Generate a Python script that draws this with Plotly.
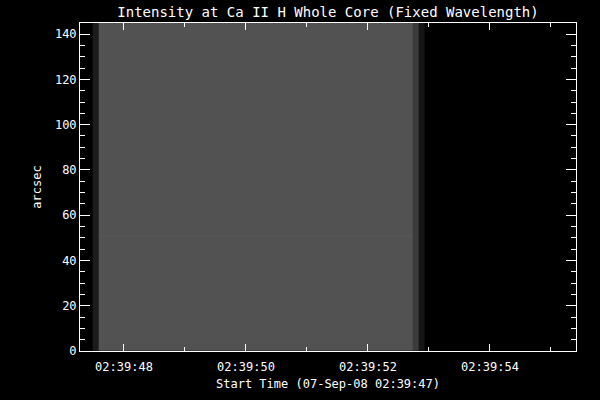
import plotly.graph_objects as go

# Column intensity levels (display grey level 0-255), one per exposure
column_levels = [28,
                 82, 82, 82, 82, 82, 82, 82, 82, 82, 82,
                 82, 82, 82, 82, 82, 82, 82, 82, 82, 82,
                 82, 82, 82, 82, 82, 82, 82, 82, 82, 82,
                 82, 82, 82, 82, 82, 82, 82, 82, 82, 82,
                 82, 82, 82, 82, 82, 82, 82, 82, 82, 82,
                 59, 21]
first_column_time = 0.538   # seconds after 02:39:47 (center of first column)
column_cadence = 0.1028     # seconds

# Slit rows (arcsec edges) and small brightness offsets
row_edges = [0, 50.4, 51.1, 145]
row_offsets = [0, 6, 0]

x_tick_vals = [1, 3, 5, 7]
x_tick_text = ["02:39:48", "02:39:50", "02:39:52", "02:39:54"]
y_tick_vals = [0, 20, 40, 60, 80, 100, 120, 140]

z = [[lvl + (off if lvl == 82 else 0) for lvl in column_levels] for off in row_offsets]

fig = go.Figure(go.Heatmap(
    z=z, x0=first_column_time, dx=column_cadence, y=row_edges,
    zmin=0, zmax=255, colorscale=[[0, "#000000"], [1, "#ffffff"]],
    showscale=False, hoverinfo="skip",
))

font_family = "DejaVu Sans Mono"
axis_common = dict(
    showline=True, linecolor="white", linewidth=1, mirror="ticks",
    ticks="inside", tickcolor="white", tickwidth=1, showgrid=False, zeroline=False,
    tickfont=dict(family=font_family, size=12, color="white"),
)

fig.update_layout(
    width=600, height=400,
    margin=dict(l=80, r=24, t=23, b=49),
    paper_bgcolor="black", plot_bgcolor="black",
    font=dict(family=font_family, color="white", size=12),
    title=dict(text="Intensity at Ca II H Whole Core (Fixed Wavelength)",
               x=0.5, xref="paper", xanchor="center",
               y=0.97, yref="container", yanchor="middle",
               font=dict(family=font_family, size=14, color="white")),
    xaxis=dict(range=[0.279, 8.41], tickmode="array", tickvals=x_tick_vals,
               ticktext=x_tick_text, ticklen=7,
               minor=dict(ticks="inside", tick0=0, dtick=1, ticklen=4, tickcolor="white"),
               title=dict(text="Start Time (07-Sep-08 02:39:47)", standoff=6,
                          font=dict(family=font_family, size=12, color="white")),
               ticklabelstandoff=5,
               **axis_common),
    yaxis=dict(range=[0, 144.9], tickmode="array", tickvals=y_tick_vals, ticklen=10,
               minor=dict(ticks="inside", tick0=0, dtick=5, ticklen=5, tickcolor="white"),
               title=dict(text="arcsec", standoff=10,
                          font=dict(family=font_family, size=12, color="white")),
               **axis_common),
)

fig.write_html("out.html", config={"displayModeBar": False},
               post_script="document.body.style.margin='0';document.body.style.background='black';")
